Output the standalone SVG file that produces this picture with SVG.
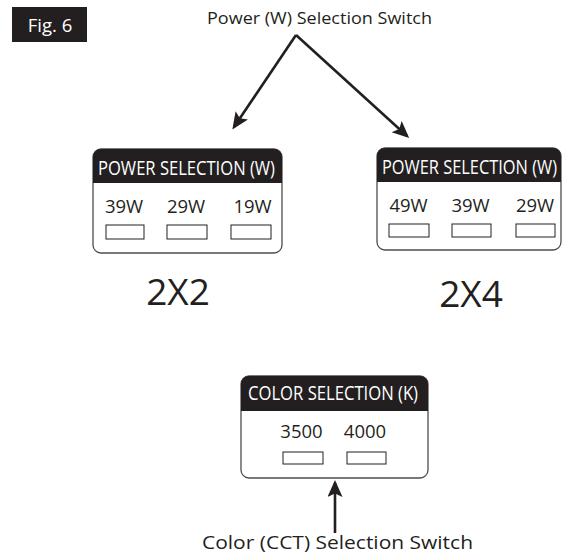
<svg xmlns="http://www.w3.org/2000/svg" width="562" height="554" viewBox="0 0 562 554">
<style>
text{font-family:"Open Sans","Liberation Sans",sans-serif;fill:#231f20}
.hdr{fill:#fff;font-size:19.5px}
.val{font-size:18.5px}
.big{font-size:37px}
.lbl{font-size:16.5px}
.box{fill:#fff;stroke:#4d4d4d;stroke-width:1.3}
.band{fill:#231f20}
.sw{fill:#fff;stroke:#231f20;stroke-width:1}
.arr{stroke:#231f20;stroke-width:2.6;fill:none;marker-end:url(#ah)}
</style>
<defs>
<marker id="ah" markerUnits="userSpaceOnUse" markerWidth="18" markerHeight="16" refX="14" refY="7.5" orient="auto" viewBox="0 0 18 16">
<path d="M0,0 L17,7.5 L0,15 L3.5,7.5 z" fill="#231f20"/>
</marker>
</defs>
<rect width="562" height="554" fill="#fff"/>
<g id="fig-label">
<rect x="12" y="7" width="75" height="35" fill="#231f20"/>
<text x="50" y="32" text-anchor="middle" style="fill:#fff;font-size:18.5px">Fig. 6</text>
</g>
<g id="power-title">
<text class="lbl" x="319.5" y="24" text-anchor="middle" textLength="225" lengthAdjust="spacingAndGlyphs">Power (W) Selection Switch</text>
</g>
<g id="box-2x2">
<rect class="box" x="93" y="149" width="189" height="104" rx="8"/>
<path class="band" d="M93,183 V157 A8,8 0 0 1 101,149 H274 A8,8 0 0 1 282,157 V183 Z"/>
<text class="hdr" x="98" y="175" textLength="177" lengthAdjust="spacingAndGlyphs">POWER SELECTION (W)</text>
<text class="val" x="124" y="213" text-anchor="middle">39W</text>
<text class="val" x="186" y="213" text-anchor="middle">29W</text>
<text class="val" x="252.5" y="213" text-anchor="middle">19W</text>
<rect class="sw" x="106" y="225" width="38" height="14"/>
<rect class="sw" x="167" y="225" width="40" height="14"/>
<rect class="sw" x="231" y="225" width="40" height="14"/>
<text class="big" x="178" y="305" text-anchor="middle">2X2</text>
</g>
<g id="box-2x4">
<rect class="box" x="377" y="148" width="184" height="102" rx="8"/>
<path class="band" d="M377,182 V156 A8,8 0 0 1 385,148 H553 A8,8 0 0 1 561,156 V182 Z"/>
<text class="hdr" x="382" y="174" textLength="175" lengthAdjust="spacingAndGlyphs">POWER SELECTION (W)</text>
<text class="val" x="408.5" y="212" text-anchor="middle">49W</text>
<text class="val" x="470.5" y="212" text-anchor="middle">39W</text>
<text class="val" x="535" y="212" text-anchor="middle">29W</text>
<rect class="sw" x="389" y="224" width="40" height="13"/>
<rect class="sw" x="452" y="224" width="39" height="13"/>
<rect class="sw" x="516" y="224" width="39" height="13"/>
<text class="big" x="471" y="307" text-anchor="middle">2X4</text>
</g>
<g id="box-color">
<rect class="box" x="241" y="376" width="187" height="102" rx="8"/>
<path class="band" d="M241,411 V384 A8,8 0 0 1 249,376 H420 A8,8 0 0 1 428,384 V411 Z"/>
<text class="hdr" x="248" y="400" textLength="170" lengthAdjust="spacingAndGlyphs">COLOR SELECTION (K)</text>
<text class="val" x="301.5" y="438" text-anchor="middle">3500</text>
<text class="val" x="365" y="438" text-anchor="middle">4000</text>
<rect class="sw" x="283" y="452" width="40" height="12"/>
<rect class="sw" x="347" y="452" width="39" height="12"/>
</g>
<g id="color-title">
<text x="337.5" y="549" text-anchor="middle" textLength="271" lengthAdjust="spacingAndGlyphs" style="font-size:18.5px">Color (CCT) Selection Switch</text>
</g>
<g id="connectors">
<line class="arr" x1="296" y1="35" x2="234" y2="127"/>
<line class="arr" x1="296" y1="35" x2="407" y2="136"/>
<line class="arr" x1="335" y1="533" x2="335" y2="483"/>
</g>
</svg>
